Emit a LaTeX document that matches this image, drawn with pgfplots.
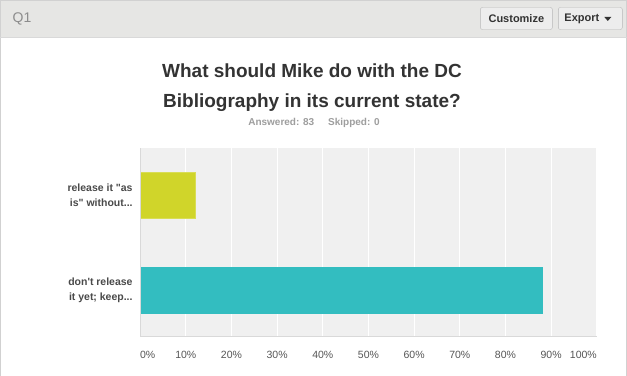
\documentclass[border=0pt]{standalone}
\usepackage{pgfplots}
\pgfplotsset{compat=1.18}
\usepackage{fontspec}
\setmainfont{Liberation Sans}[Ligatures=TeXOff]
\definecolor{hdr}{HTML}{E6E6E4}
\definecolor{plotbg}{HTML}{F0F0F0}
\definecolor{barY}{HTML}{D0D52A}
\definecolor{barT}{HTML}{33BDC0}
\definecolor{titlec}{HTML}{333333}
\definecolor{labc}{HTML}{4A4A4A}
\definecolor{tickc}{HTML}{555555}
\newcommand{\labA}{don't release\\it yet; keep...}
\newcommand{\labB}{release it "as\\is" without...}
\begin{document}
\begin{tikzpicture}[x=1pt,y=1pt]
% page background and frame
\fill[white] (0,0) rectangle (627,376);
\fill[hdr] (0,339) rectangle (627,376);
\draw[black!18] (0.5,0) -- (0.5,375.5) -- (626.5,375.5) -- (626.5,0);
\draw[black!15] (0,339) -- (627,339);
\node[anchor=west, text=black!45, font=\fontsize{14}{16}\selectfont] at (9,357) {Q1};
% buttons
\draw[black!28, fill=black!7, rounded corners=2pt] (480.5,346.5) rectangle (552.5,368.5);
\node[text=titlec, font=\bfseries\fontsize{11}{13}\selectfont] at (516.5,357.5) {Customize};
\draw[black!28, fill=black!7, rounded corners=2pt] (558.5,346.5) rectangle (622.5,368.5);
\node[text=titlec, font=\bfseries\fontsize{11}{13}\selectfont] at (582,357.5) {Export};
\fill[titlec] (604.5,359) -- (611.5,359) -- (608,355) -- cycle;
% title
\node[align=center, text=titlec, font=\bfseries\fontsize{19}{30}\selectfont] at (312,288.5) {What should Mike do with the DC\\Bibliography in its current state?};
\node[text=black!38, font=\bfseries\fontsize{10}{12}\selectfont] at (314,253) {Answered: 83\hspace{14pt}Skipped: 0};
\begin{axis}[
  at={(140pt,39pt)}, anchor=south west,
  width=457pt, height=189pt, scale only axis,
  xbar, xmin=0, xmax=100, ymin=-0.49, ymax=1.5,
  bar width=0.49, bar shift=0pt,
  axis background/.style={fill=plotbg},
  axis line style={draw=none},
  xtick={0,10,20,30,40,50,60,70,80,90,100},
  xticklabels={\rlap{0\%},10\%,20\%,30\%,40\%,50\%,60\%,70\%,80\%,90\%,\llap{100\%}},
  xticklabel style={text=tickc, font=\fontsize{10.5}{12}\selectfont, yshift=-11pt},
  ytick={0,1},
  yticklabels={\labA,\labB},
  yticklabel style={align=right, text=labc, font=\bfseries\fontsize{10.5}{15}\selectfont, xshift=-4pt},
  major tick length=0pt,
  xmajorgrids, grid style={white, line width=1pt},
  ymajorgrids=false,
  clip=false,
]
\addplot[fill=barY, draw=barY!80!white] coordinates {(12.05,1)};
\addplot[fill=barT, draw=barT] coordinates {(87.95,0)};
\draw[black!15, line width=1.2pt] (axis cs:0,-0.49) -- (axis cs:0,1.5);
\draw[black!15, line width=1.2pt] (axis cs:0,-0.49) -- (axis cs:100,-0.49);
\end{axis}
\end{tikzpicture}
\end{document}
